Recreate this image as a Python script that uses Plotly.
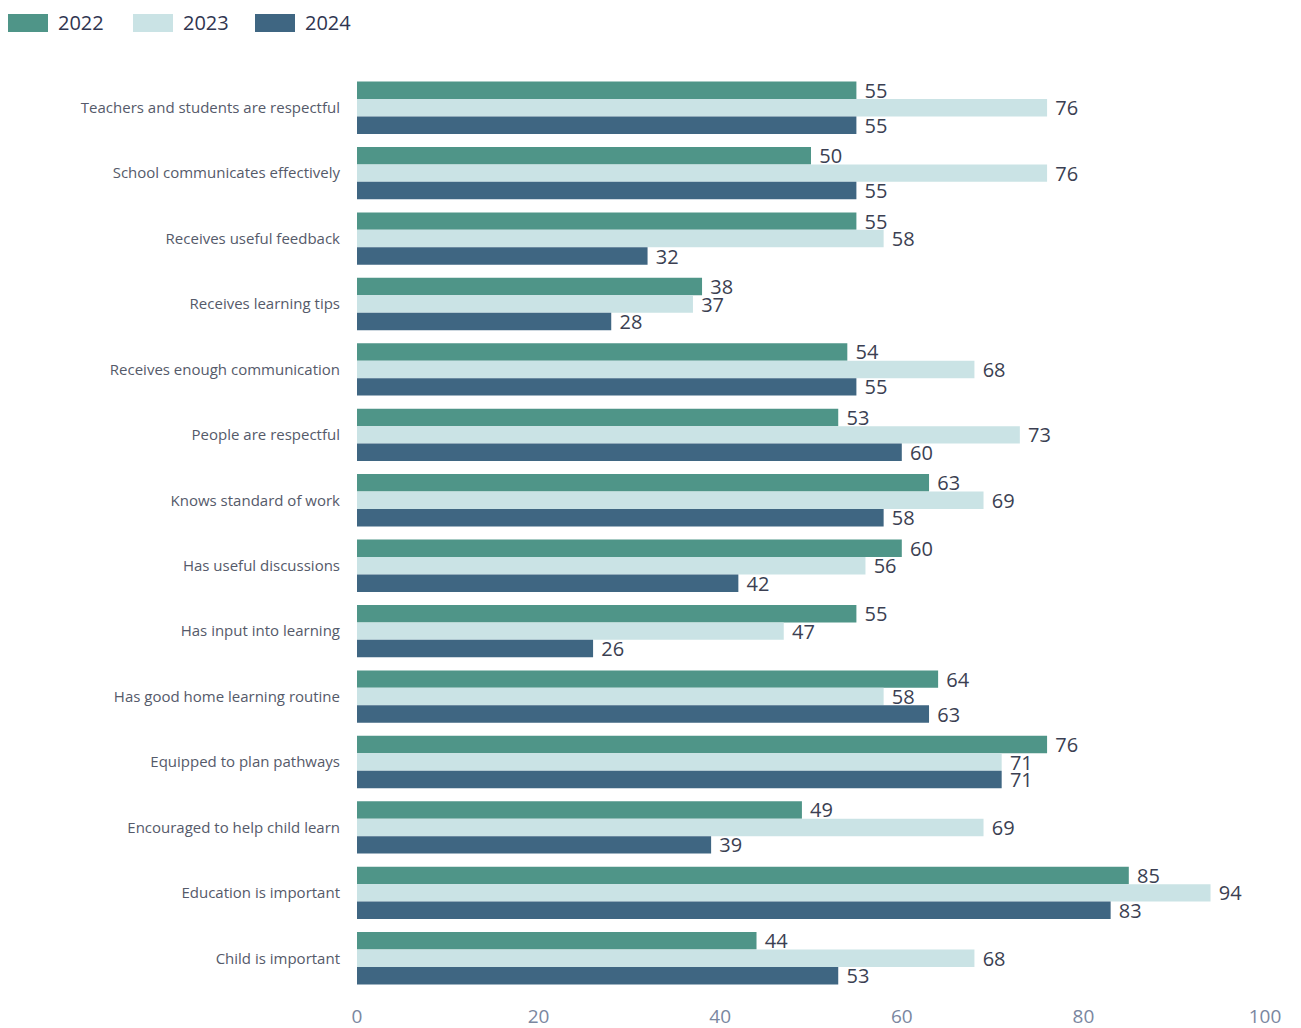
import plotly.graph_objects as go

# Survey statements (top to bottom) and percentage agreement per year
statements = [
    "Teachers and students are respectful",
    "School communicates effectively",
    "Receives useful feedback",
    "Receives learning tips",
    "Receives enough communication",
    "People are respectful",
    "Knows standard of work",
    "Has useful discussions",
    "Has input into learning",
    "Has good home learning routine",
    "Equipped to plan pathways",
    "Encouraged to help child learn",
    "Education is important",
    "Child is important",
]
values_2022 = [55, 50, 55, 38, 54, 53, 63, 60, 55, 64, 76, 49, 85, 44]
values_2023 = [76, 76, 58, 37, 68, 73, 69, 56, 47, 58, 71, 69, 94, 68]
values_2024 = [55, 55, 32, 28, 55, 60, 58, 42, 26, 63, 71, 39, 83, 53]
years = ["2022", "2023", "2024"]
x_ticks = [0, 20, 40, 60, 80, 100]

colors = ["#4f9588", "#cae3e5", "#3f6682"]
all_values = [values_2022, values_2023, values_2024]

fig = go.Figure()
for name, vals, color in zip(years, all_values, colors):
    fig.add_trace(go.Bar(
        name=name,
        y=statements,
        x=vals,
        orientation="h",
        marker=dict(color=color, line=dict(width=0)),
        text=vals,
        texttemplate=" %{text}",
        textposition="outside",
        textfont=dict(size=20, color="#3b3f52", family="Open Sans"),
        constraintext="none",
        cliponaxis=False,
        showlegend=False,
    ))

# Legend drawn as wide swatches with labels across the top-left corner
plot_left, plot_width = 357, 908
plot_bottom, plot_height = 991, 916


def px_x(px):
    return (px - plot_left) / plot_width


def px_y(py):
    return (plot_bottom - py) / plot_height


swatch_lefts = [8, 133, 255]
for left, name, color in zip(swatch_lefts, years, colors):
    fig.add_shape(
        type="rect", xref="paper", yref="paper",
        x0=px_x(left), x1=px_x(left + 40), y0=px_y(32), y1=px_y(14),
        fillcolor=color, line=dict(width=0),
    )
    fig.add_annotation(
        xref="paper", yref="paper",
        x=px_x(left + 48), y=px_y(23),
        xanchor="left", yanchor="middle",
        text=name, showarrow=False,
        font=dict(size=20, color="#2f3550", family="Open Sans"),
    )

fig.update_layout(
    width=1301,
    height=1028,
    barmode="group",
    bargap=0.2,
    bargroupgap=0,
    plot_bgcolor="white",
    paper_bgcolor="white",
    margin=dict(l=357, r=36, t=75, b=37),
    font=dict(family="Open Sans", color="#555555"),
    showlegend=False,
    xaxis=dict(
        range=[0, 100],
        tickvals=x_ticks,
        showgrid=False,
        zeroline=False,
        showline=False,
        tickfont=dict(size=19, color="#7a879f"),
        ticklen=0,
        ticklabelstandoff=12,
        automargin=False,
    ),
    yaxis=dict(
        autorange="reversed",
        showgrid=False,
        showline=False,
        ticks="",
        ticklabelstandoff=16,
        tickfont=dict(size=15, color="#555a6a"),
        automargin=False,
    ),
)

fig.write_html("out.html")
